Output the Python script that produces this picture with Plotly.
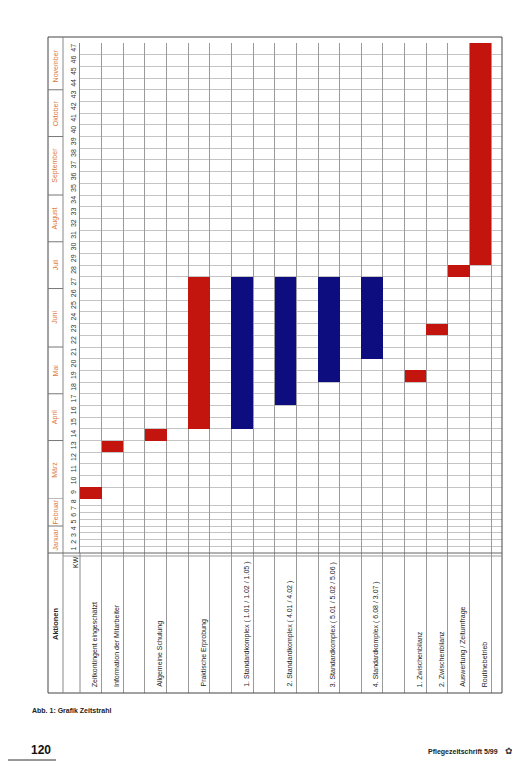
import plotly.graph_objects as go

# ---------------- data ----------------
activities = [
    "Zeitkontingent eingeschätzt",
    "Information der Mitarbeiter",
    "Allgemeine Schulung",
    "Praktische Erprobung",
    "1. Standardkomplex ( 1.01 / 1.02 / 1.05 )",
    "2. Standardkomplex ( 4.01 / 4.02 )",
    "3. Standardkomplex ( 5.01 / 5.02 / 5.06 )",
    "4. Standardkomplex ( 6.08 / 3.07 )",
    "1. Zwischenbilanz",
    "2. Zwischenbilanz",
    "Auswertung / Zeitumfrage",
    "Routinebetrieb",
]
start_week = [9, 13, 14, 15, 15, 17, 19, 21, 19, 23, 28, 29]
end_week = [9, 13, 14, 27, 27, 27, 27, 27, 19, 23, 28, 47]
kind = ["Aktion"] * 4 + ["Standard"] * 4 + ["Aktion"] * 4

weeks = list(range(1, 48))
months = ["Januar", "Februar", "März", "April", "Mai", "Juni", "Juli",
          "August", "September", "Oktober", "November"]
month_first_week = [1, 5, 9, 14, 18, 22, 27, 31, 35, 40, 44]

# ---------------- layout helpers ----------------
column_span = [1, 2, 2, 2, 2, 2, 2, 2, 1, 1, 1, 1]   # spreadsheet column widths (slots)
slot_left = []
acc = 0
for s in column_span:
    slot_left.append(acc)
    acc += s
n_slots = acc
x_center = [l + 0.5 for l in slot_left]

OFF = 8                      # page body margin
W, H = 520 - OFF, 781 - OFF
PLOT_L, PLOT_R, PLOT_T = 80, 502, 43      # page px
WEEK_B = 553                              # bottom of week grid
LABEL_B = 693                             # bottom of label band (frame)
SPLIT = 499                               # page px where week 8.5 sits
L = PLOT_L - OFF
R = W - (PLOT_R - OFF)
T = PLOT_T - OFF
B = H - (LABEL_B - OFF)
PW, PH = W - L - R, H - T - B
X_MAX = n_slots + 0.5
d_label = (LABEL_B - WEEK_B) / (LABEL_B - PLOT_T)
d_split = (LABEL_B - SPLIT) / (LABEL_B - PLOT_T)
BREAK = 8.5                  # lower panel holds weeks 1-8 (compressed rows)


def px2x(px):
    return (px - OFF - L) / PW


def py2y(py):
    return (H - B - (py - OFF)) / PH


def py2band(py):
    return (LABEL_B - py) / (LABEL_B - WEEK_B)


def yref_of(v):
    return "y2" if v < BREAK else "y"


RED = "#c4140e"
BLUE = "#0d0d80"
colors = {"Aktion": RED, "Standard": BLUE}
FONT = "Liberation Sans"

fig = go.Figure()
for k in ["Aktion", "Standard"]:
    idx = [i for i in range(len(activities)) if kind[i] == k]
    fig.add_trace(go.Bar(
        x=[x_center[i] for i in idx],
        y=[end_week[i] - start_week[i] + 1 for i in idx],
        base=[start_week[i] - 0.5 for i in idx],
        width=1, xaxis="x", yaxis="y",
        marker=dict(color=colors[k], line=dict(width=0)),
        hovertext=[activities[i] for i in idx],
        showlegend=False,
    ))
# empty traces so the lower week panel and the label band exist
for ya in ["y2", "y3"]:
    fig.add_trace(go.Scatter(x=[None], y=[None], xaxis="x", yaxis=ya,
                             mode="markers", showlegend=False, hoverinfo="skip"))

shapes = []
shapes.append(dict(type="rect", xref="paper", yref="paper",
                   x0=px2x(48), x1=px2x(502), y0=py2y(693), y1=py2y(37),
                   line=dict(color="#444", width=1)))
shapes.append(dict(type="line", xref="paper", yref="paper", x0=px2x(63), x1=px2x(63),
                   y0=py2y(693), y1=py2y(37), line=dict(color="#888", width=1)))
shapes.append(dict(type="line", xref="paper", yref="paper", x0=px2x(48), x1=px2x(502),
                   y0=d_label, y1=d_label, line=dict(color="#666", width=1)))
shapes.append(dict(type="line", xref="paper", yref="paper", x0=px2x(63), x1=px2x(502),
                   y0=py2y(556), y1=py2y(556), line=dict(color="#999", width=1)))
shapes.append(dict(type="line", xref="paper", yref="paper", x0=0, x1=0,
                   y0=0, y1=d_label, line=dict(color="#888", width=1)))
for w in month_first_week[1:]:
    v = w - 0.5
    shapes.append(dict(type="line", xref="paper", yref=yref_of(v), x0=px2x(48), x1=px2x(63),
                       y0=v, y1=v, line=dict(color="#777", width=1)))
shapes.append(dict(type="line", xref="paper", yref="paper", x0=px2x(0), x1=px2x(56),
                   y0=py2y(760), y1=py2y(760), line=dict(color="#333", width=1)))

annotations = []
for i, a in enumerate(activities):
    annotations.append(dict(x=x_center[i], xref="x", y=py2band(689), yref="y3",
                            text=a, textangle=-90, showarrow=False,
                            xanchor="center", yanchor="bottom", xshift=4,
                            font=dict(size=7, color="#222", family=FONT)))
for m, (name, w0) in enumerate(zip(months, month_first_week)):
    w1 = month_first_week[m + 1] - 1 if m + 1 < len(month_first_week) else weeks[-1]
    c = (w0 + w1) / 2
    annotations.append(dict(x=px2x(55), xref="paper", y=c, yref=yref_of(c),
                            text=name, textangle=-90, showarrow=False,
                            xanchor="center", yanchor="middle",
                            font=dict(size=7, color="#e0783a", family=FONT)))
annotations.append(dict(x=px2x(55), xref="paper", y=py2band(624), yref="y3",
                        text="<b>Aktionen</b>", textangle=-90, showarrow=False,
                        xanchor="center", yanchor="middle",
                        font=dict(size=7.5, color="#222", family=FONT)))
annotations.append(dict(x=px2x(75), xref="paper", y=py2band(562), yref="y3",
                        text="KW", textangle=-90, showarrow=False,
                        xanchor="center", yanchor="middle",
                        font=dict(size=7, color="#222", family=FONT)))
annotations.append(dict(x=px2x(30), xref="paper", y=py2y(710), yref="paper",
                        text="Abb. 1: Grafik Zeitstrahl", showarrow=False,
                        xanchor="left", yanchor="middle",
                        font=dict(size=7, color="#222", family=FONT, weight="bold")))
annotations.append(dict(x=px2x(29), xref="paper", y=py2y(750), yref="paper",
                        text="120", showarrow=False,
                        xanchor="left", yanchor="middle",
                        font=dict(size=12, color="#111", family=FONT, weight="bold")))
annotations.append(dict(x=px2x(500), xref="paper", y=py2y(752), yref="paper",
                        text="Pflegezeitschrift 5/99", showarrow=False,
                        xanchor="right", yanchor="middle",
                        font=dict(size=7, color="#222", family=FONT, weight="bold")))
annotations.append(dict(x=px2x(503), xref="paper", y=py2y(751), yref="paper",
                        text="✿", showarrow=False,
                        xanchor="left", yanchor="middle",
                        font=dict(size=9, color="#333", family="DejaVu Sans")))

upper_weeks = [w for w in weeks if w > BREAK]
lower_weeks = [w for w in weeks if w < BREAK]
yaxis_common = dict(tickangle=-90, tickfont=dict(size=7, color="#333", family=FONT),
                    ticks="", showgrid=False, zeroline=False,
                    showline=True, linecolor="#888", linewidth=1, fixedrange=True)

fig.update_layout(
    width=W, height=H,
    margin=dict(l=L, r=R, t=T, b=B, pad=0),
    paper_bgcolor="white", plot_bgcolor="white",
    barmode="overlay", bargap=0,
    shapes=shapes, annotations=annotations,
    showlegend=False,
    font=dict(family=FONT),
    xaxis=dict(range=[0, X_MAX], tickvals=list(range(0, n_slots + 1)),
               showticklabels=False, ticks="", showgrid=True, gridcolor="#9a9a9a",
               gridwidth=1, zeroline=False, showline=False, fixedrange=True,
               anchor="y3"),
    yaxis=dict(domain=[d_split, 1], range=[BREAK, 47.5], anchor="x",
               tickvals=upper_weeks, ticktext=[str(w) for w in upper_weeks],
               minor=dict(tickvals=[w - 0.5 for w in upper_weeks], showgrid=True,
                          gridcolor="#c4c4c4", gridwidth=1, ticks=""),
               **yaxis_common),
    yaxis2=dict(domain=[d_label, d_split], range=[0.5, BREAK], anchor="x",
                tickvals=lower_weeks, ticktext=[str(w) for w in lower_weeks],
                minor=dict(tickvals=[w - 0.5 for w in lower_weeks] + [BREAK], showgrid=True,
                           gridcolor="#c4c4c4", gridwidth=1, ticks=""),
                **yaxis_common),
    yaxis3=dict(domain=[0, d_label], range=[0, 1], anchor="x",
                showticklabels=False, ticks="", showgrid=False, zeroline=False,
                showline=False, fixedrange=True),
)

fig.write_html("out.html")
